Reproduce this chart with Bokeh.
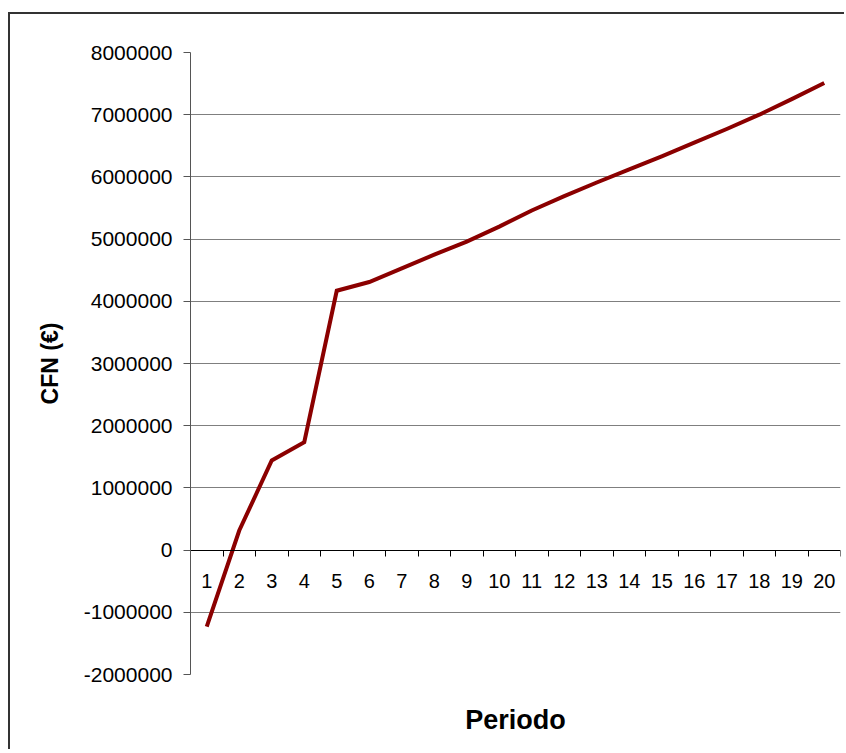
from bokeh.plotting import figure
from bokeh.models import (LinearAxis, FixedTicker, NumeralTickFormatter, Range1d,
                          ColumnDataSource, Grid)
from bokeh.embed import file_html
from bokeh.resources import INLINE

# ---- data ----
periods = list(range(1, 21))
cfn = [-1230000, 315000, 1440000, 1735000, 4170000, 4310000, 4530000, 4750000,
       4960000, 5200000, 5460000, 5690000, 5910000, 6120000, 6330000, 6550000,
       6770000, 7000000, 7250000, 7510000]
y_ticks = [-2000000, -1000000, 0, 1000000, 2000000, 3000000, 4000000,
           5000000, 6000000, 7000000, 8000000]
y_label = "CFN (€)"
x_label = "Periodo"

y_min, y_max = y_ticks[0], y_ticks[-1]
x_min, x_max = periods[0] - 0.5, periods[-1] + 0.5
bounds = [p_ + 0.5 for p_ in [periods[0] - 1] + periods]
grid_ticks = [t for t in y_ticks if t not in (y_min, y_max, 0)]
edge_ticks = [y_min, y_max]

FONT = "Liberation Sans"

p = figure(width=836, height=737, output_backend="svg", toolbar_location=None,
           x_range=Range1d(x_min, x_max), y_range=Range1d(y_min, y_max),
           x_axis_type=None, y_axis_type=None,
           min_border_left=180, min_border_right=6,
           min_border_top=38, min_border_bottom=77,
           background_fill_color="white", border_fill_color="white",
           outline_line_color=None)

p.styles = {"border-top": "2px solid #333333", "border-left": "2px solid #333333",
            "margin-top": "12px", "margin-left": "8px"}

grid = Grid(dimension=1, ticker=FixedTicker(ticks=grid_ticks),
            grid_line_color="#7f7f7f", grid_line_width=1)
p.add_layout(grid)
edge_grid = Grid(dimension=1, ticker=FixedTicker(ticks=edge_ticks),
                 grid_line_color="#ececec", grid_line_width=1)
p.add_layout(edge_grid)

yaxis = LinearAxis(ticker=FixedTicker(ticks=y_ticks),
                   formatter=NumeralTickFormatter(format="0"),
                   axis_label=y_label)
yaxis.axis_line_color = "#555555"
yaxis.major_tick_line_color = "#555555"
yaxis.major_tick_out = 7
yaxis.major_tick_in = 0
yaxis.minor_tick_line_color = None
yaxis.major_label_standoff = 11
yaxis.major_label_text_font = FONT
yaxis.major_label_text_font_size = "21px"
yaxis.major_label_text_color = "black"
yaxis.axis_label_text_font = FONT
yaxis.axis_label_text_font_size = "23px"
yaxis.axis_label_text_font_style = "bold"
yaxis.axis_label_text_color = "black"
yaxis.axis_label_standoff = 18
p.add_layout(yaxis, "left")

xaxis = LinearAxis(ticker=FixedTicker(ticks=periods, minor_ticks=bounds),
                   fixed_location=0)
xaxis.axis_line_color = "black"
xaxis.axis_line_width = 1
xaxis.major_tick_line_color = None
xaxis.major_tick_out = 0
xaxis.major_tick_in = 0
xaxis.minor_tick_line_color = "black"
xaxis.minor_tick_out = 6
xaxis.minor_tick_in = 0
xaxis.major_label_standoff = 18
xaxis.major_label_text_font = FONT
xaxis.major_label_text_font_size = "20px"
xaxis.major_label_text_color = "black"
p.add_layout(xaxis, "below")

xlab = LinearAxis(ticker=FixedTicker(ticks=[]), axis_label=x_label)
xlab.axis_line_color = None
xlab.major_tick_line_color = None
xlab.minor_tick_line_color = None
xlab.major_tick_out = 0
xlab.major_label_standoff = 0
xlab.axis_label_text_font = FONT
xlab.axis_label_text_font_size = "27px"
xlab.axis_label_text_font_style = "bold"
xlab.axis_label_text_color = "black"
xlab.axis_label_standoff = 30
p.add_layout(xlab, "below")

src = ColumnDataSource(dict(x=periods, y=cfn))
p.line("x", "y", source=src, line_color="#8B0000", line_width=4, line_join="miter")

open("out.html", "w").write(file_html(p, INLINE))
